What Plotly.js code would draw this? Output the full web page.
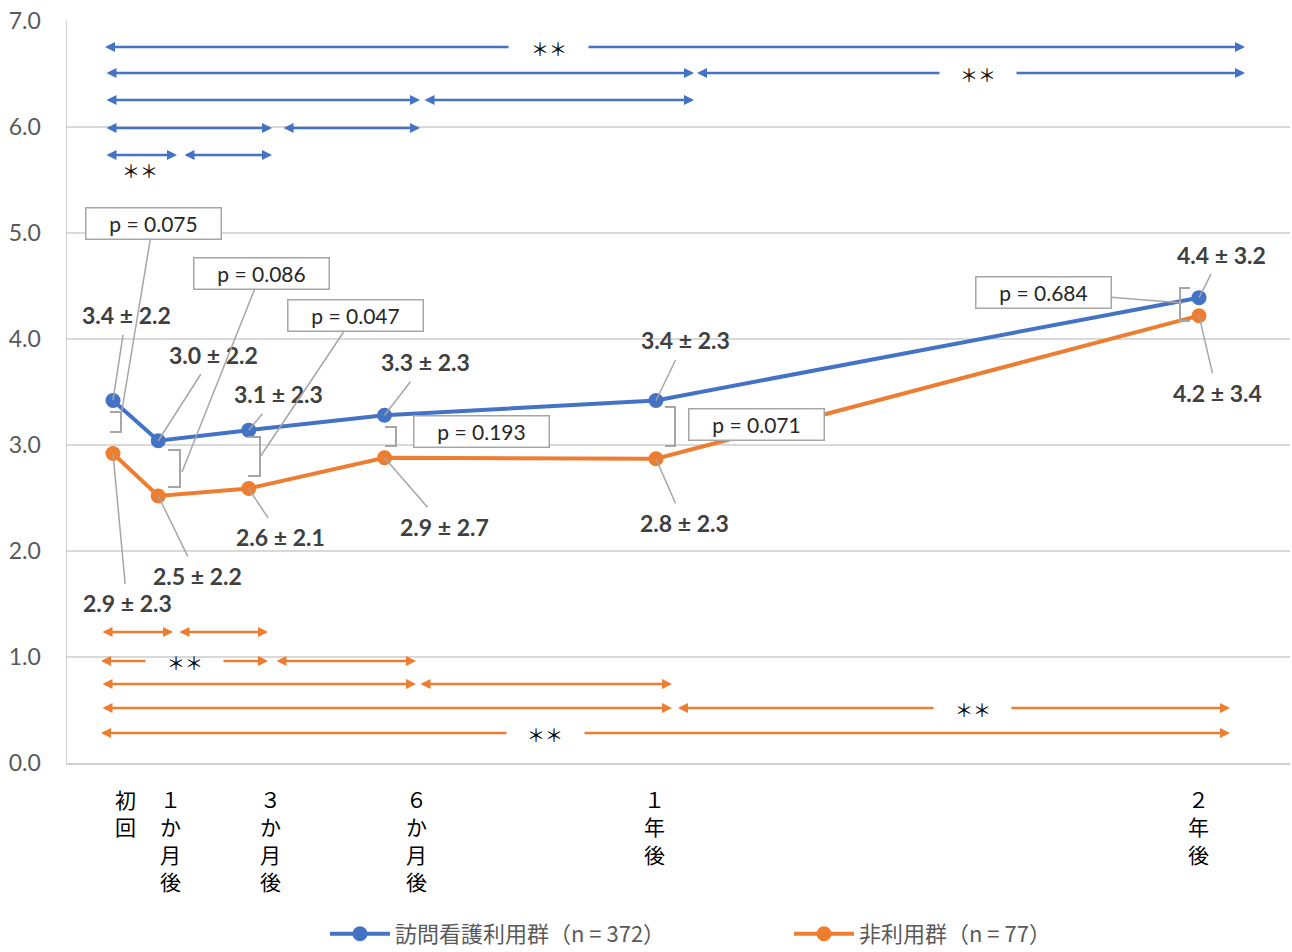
<!DOCTYPE html>
<html><head><meta charset="utf-8">
<script src="https://cdn.plot.ly/plotly-3.0.1.min.js"></script>
<style>html,body{margin:0;padding:0;background:#fff}</style>
</head><body><div id="chart" style="width:1292px;height:952px"></div>
<script>
// ---- data ----
const months = [0, 1, 3, 6, 12, 24];
const timeLabels = ['初<br>回', '１<br>か<br>月<br>後', '３<br>か<br>月<br>後', '６<br>か<br>月<br>後', '１<br>年<br>後', '２<br>年<br>後'];
const visitMean = [3.42, 3.04, 3.14, 3.28, 3.42, 4.39];
const nonMean = [2.92, 2.52, 2.59, 2.88, 2.87, 4.22];
const visitLabels = ['3.4 ± 2.2', '3.0 ± 2.2', '3.1 ± 2.3', '3.3 ± 2.3', '3.4 ± 2.3', '4.4 ± 3.2'];
const nonLabels = ['2.9 ± 2.3', '2.5 ± 2.2', '2.6 ± 2.1', '2.9 ± 2.7', '2.8 ± 2.3', '4.2 ± 3.4'];
const pValues = ['p = 0.075', 'p = 0.086', 'p = 0.047', 'p = 0.193', 'p = 0.071', 'p = 0.684'];
const seriesNames = ['訪問看護利用群（n = 372）', '非利用群（n = 77）'];
const sigMark = '＊＊';

// ---- styling / geometry ----
const BLUE = '#4472C4', ORANGE = '#ED7D31', GRAYL = '#a6a6a6';
const W = 1292, H = 952, PL = 67, PR = 1290, PT = 21, PB = 763;
const XMIN = (PL - 113) / 45.25, XMAX = (PR - 113) / 45.25;
const X = px => XMIN + (px - PL) / (PR - PL) * (XMAX - XMIN);
const Y = py => (PB - py) / (PB - PT) * 7;
const PX = px => (px - PL) / (PR - PL);
const PY = py => (PB - py) / (PB - PT);

const labelShift = [12, 12, 22, 32, -2, -1];
const visitOff = [[13, -85], [55, -86], [30, -36], [41, -53], [29, -60], [22, -43]];
const nonOff = [[14, 150], [39, 80], [32, 49], [60, 69], [28, 64], [18, 77]];
// p boxes: [headX, headY, boxCX, boxCY, hasLeader]
const pBox = [[122, 410, 153, 223, 1], [182, 472, 261, 273, 1], [260, 457, 355, 315, 1],
              [0, 0, 481, 431, 0], [0, 0, 756, 424, 0], [1183, 303, 1043, 292, 1]];
// brackets: [serifTipX, verticalX, topY, bottomY]
const brackets = [[110, 121, 412, 432], [168, 180, 450, 487], [248, 260, 437, 476],
                  [385, 396, 427, 446], [665, 675, 407, 446], [1190, 1180, 288, 321]];
// significance arrows [x0, x1, y, side]
const blueArrows = [
  [105, 510, 47, 'left'], [587, 1245, 47, 'right'],
  [105, 694, 73, 'both'], [697, 941, 73, 'left'], [1015, 1245, 73, 'right'],
  [105, 420, 100, 'both'], [423, 694, 100, 'both'],
  [105, 272, 128, 'both'], [282, 420, 128, 'both'],
  [105, 177, 155, 'both'], [183, 272, 155, 'both']
];
const blueStars = [[549, 48], [978, 74], [140, 170]];
const orangeArrows = [
  [101, 173, 632, 'both'], [178, 268, 632, 'both'],
  [101, 147, 661, 'left'], [222, 268, 661, 'right'], [275, 416, 661, 'both'],
  [101, 416, 684, 'both'], [419, 672, 684, 'both'],
  [101, 672, 708, 'both'], [678, 935, 708, 'left'], [1010, 1230, 708, 'right'],
  [101, 508, 733, 'left'], [583, 1230, 733, 'right']
];
const orangeStars = [[185, 662], [973, 709], [545, 734]];

const traces = [
  {x: months, y: visitMean, name: seriesNames[0], mode: 'lines+markers', legend: 'legend',
   line: {color: BLUE, width: 4}, marker: {size: 15, color: BLUE}, hoverinfo: 'skip'},
  {x: months, y: nonMean, name: seriesNames[1], mode: 'lines+markers', legend: 'legend2',
   line: {color: ORANGE, width: 4}, marker: {size: 15, color: ORANGE}, hoverinfo: 'skip'}
];

const ann = [];
const shapes = [];
// x-axis labels
months.forEach((m, i) => ann.push({x: m, xref: 'x', y: 0, yref: 'y', yanchor: 'top', xanchor: 'center',
  yshift: -19, xshift: labelShift[i], text: timeLabels[i], showarrow: false,
  font: {family: 'Noto Sans CJK JP', size: 21, color: '#000'}}));
// value labels
const valFont = {family: 'Lato', size: 23, color: '#404040', weight: 'bold'};
months.forEach((m, i) => {
  ann.push({x: m, y: visitMean[i], text: '<b>' + visitLabels[i] + '</b>', showarrow: true, arrowhead: 0,
    arrowwidth: 1.5, arrowcolor: GRAYL, ax: visitOff[i][0], ay: visitOff[i][1], standoff: 0,
    borderpad: 5, font: valFont});
  ann.push({x: m, y: nonMean[i], text: '<b>' + nonLabels[i] + '</b>', showarrow: true, arrowhead: 0,
    arrowwidth: 1.5, arrowcolor: GRAYL, ax: nonOff[i][0], ay: nonOff[i][1], standoff: 0,
    borderpad: 5, font: valFont});
});
// p-value boxes
pValues.forEach((p, i) => {
  const b = pBox[i];
  const common = {text: p, width: 130, height: 26, borderpad: 2, borderwidth: 1.5,
    bordercolor: GRAYL, bgcolor: '#fff', font: {family: 'Lato', size: 21, color: '#262626'}};
  if (b[4]) {
    ann.push(Object.assign({x: X(b[0]), y: Y(b[1]), showarrow: true, arrowhead: 0, arrowwidth: 1.5,
      arrowcolor: GRAYL, ax: b[2] - b[0], ay: b[3] - b[1], standoff: 0}, common));
  } else {
    ann.push(Object.assign({x: X(b[2]), y: Y(b[3]), showarrow: false}, common));
  }
});
// brackets
brackets.forEach(b => shapes.push({type: 'path', xref: 'x', yref: 'y',
  path: `M${X(b[0])},${Y(b[2])}L${X(b[1])},${Y(b[2])}L${X(b[1])},${Y(b[3])}L${X(b[0])},${Y(b[3])}`,
  line: {color: GRAYL, width: 2}}));
// significance arrows
function addArrows(list, color) {
  list.forEach(a => {
    const [x0, x1, y, side] = a;
    const base = {xref: 'x', yref: 'y', axref: 'x', ayref: 'y', text: '', showarrow: true,
      arrowhead: 2, arrowsize: 0.8, arrowwidth: 2.5, arrowcolor: color, y: Y(y), ay: Y(y)};
    if (side === 'both') Object.assign(base, {x: X(x1), ax: X(x0), arrowside: 'end+start'});
    else if (side === 'left') Object.assign(base, {x: X(x0), ax: X(x1), arrowside: 'end'});
    else Object.assign(base, {x: X(x1), ax: X(x0), arrowside: 'end'});
    ann.push(base);
  });
}
addArrows(blueArrows, BLUE);
addArrows(orangeArrows, ORANGE);
blueStars.concat(orangeStars).forEach(s => ann.push({x: X(s[0]), y: Y(s[1]), text: sigMark,
  showarrow: false, font: {family: 'Noto Sans CJK JP', size: 18, color: '#000'}}));

const legendBase = {orientation: 'h', xanchor: 'left', yanchor: 'middle', y: PY(934),
  bgcolor: 'rgba(0,0,0,0)', itemwidth: 60,
  font: {family: 'Noto Sans CJK JP', size: 22, color: '#595959'}};

const layout = {
  width: W, height: H,
  margin: {l: PL, r: W - PR, t: PT, b: H - PB, autoexpand: false},
  paper_bgcolor: '#fff', plot_bgcolor: '#fff',
  showlegend: true,
  legend: Object.assign({x: PX(325)}, legendBase),
  legend2: Object.assign({x: PX(789)}, legendBase),
  xaxis: {range: [XMIN, XMAX], showgrid: false, zeroline: false, showticklabels: false, ticks: '',
    showline: true, linecolor: '#d0d0d0', linewidth: 1.5, fixedrange: true},
  yaxis: {range: [0, 7], dtick: 1, tick0: 0, tickformat: '.1f', showgrid: true, gridcolor: '#d9d9d9',
    gridwidth: 1.3, zeroline: false, showline: true, linecolor: '#d0d0d0', linewidth: 1.5,
    ticks: '', ticklabelstandoff: 20, tickfont: {family: 'Lato', size: 23, color: '#595959'}, fixedrange: true},
  annotations: ann,
  shapes: shapes
};

Plotly.newPlot('chart', traces, layout, {displayModeBar: false, staticPlot: true});
</script></body></html>
